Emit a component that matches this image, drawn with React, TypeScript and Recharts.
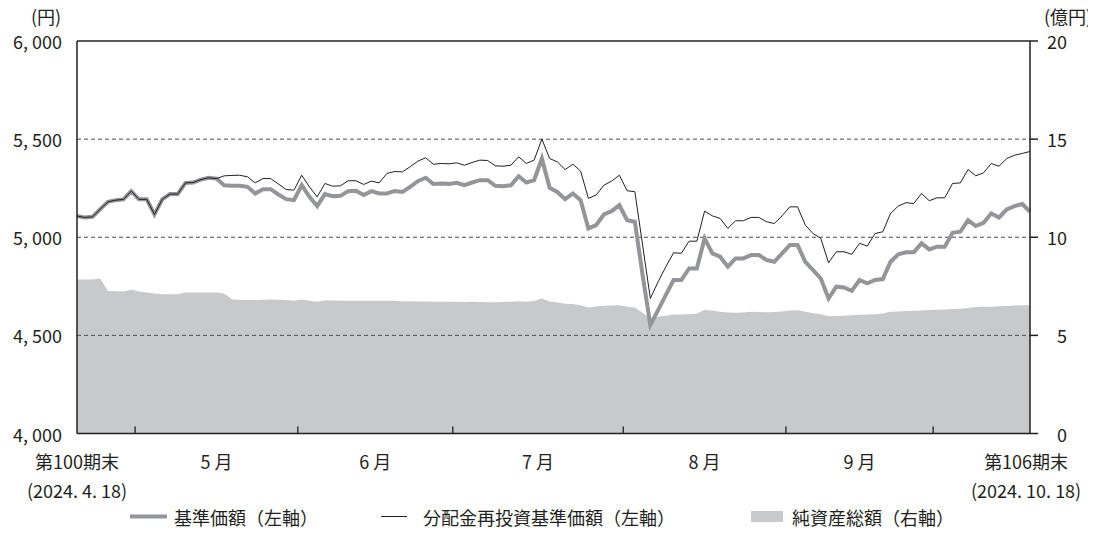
import React from 'react';
import { ComposedChart, Line, Area, XAxis, YAxis, ReferenceLine } from 'recharts';

const FONT = '"Noto Sans CJK JP", "Noto Sans", sans-serif';
const INK = '#231f20';
const NAV_COLOR = '#939598';
const AREA_COLOR = '#c8c9ca';

// 基準価額（左軸）
const navPrice = [
  5108, 5101, 5104, 5143, 5181, 5189, 5193, 5235, 5193, 5193,
  5116, 5193, 5220, 5220, 5277, 5279, 5294, 5303, 5299, 5265,
  5262, 5262, 5257, 5223, 5245, 5245, 5218, 5194, 5189, 5265,
  5206, 5159, 5220, 5209, 5211, 5235, 5237, 5215, 5235, 5223,
  5223, 5236, 5231, 5257, 5286, 5303, 5271, 5274, 5272, 5277,
  5265, 5279, 5291, 5291, 5262, 5260, 5265, 5311, 5279, 5291,
  5401, 5252, 5231, 5194, 5223, 5189, 5045, 5062, 5116, 5133,
  5164, 5087, 5079, 4807, 4553, 4629, 4706, 4782, 4782, 4841,
  4841, 4994, 4918, 4901, 4850, 4892, 4892, 4909, 4909, 4884,
  4875, 4918, 4960, 4960, 4875, 4833, 4790, 4688, 4748, 4744,
  4727, 4782, 4765, 4782, 4787, 4875, 4913, 4923, 4923, 4969,
  4938, 4952, 4952, 5023, 5028, 5087, 5057, 5074, 5121, 5101,
  5142, 5159, 5169, 5130,
];

// 分配金再投資基準価額（左軸）
const reinvestedPrice = [
  5108, 5101, 5104, 5143, 5181, 5189, 5193, 5235, 5193, 5193,
  5116, 5193, 5220, 5220, 5277, 5279, 5294, 5303, 5299, 5313,
  5315, 5316, 5308, 5277, 5299, 5299, 5271, 5243, 5240, 5316,
  5257, 5206, 5274, 5260, 5262, 5288, 5288, 5269, 5286, 5277,
  5325, 5335, 5333, 5359, 5388, 5405, 5372, 5376, 5374, 5379,
  5367, 5381, 5393, 5391, 5364, 5362, 5367, 5410, 5376, 5393,
  5500, 5401, 5384, 5345, 5372, 5337, 5198, 5215, 5265, 5286,
  5316, 5237, 5232, 4960, 4688, 4773, 4850, 4921, 4918, 4980,
  4980, 5133, 5109, 5096, 5045, 5084, 5084, 5101, 5101, 5079,
  5070, 5109, 5155, 5155, 5062, 5019, 4994, 4870, 4926, 4926,
  4913, 4969, 4955, 5019, 5028, 5121, 5159, 5176, 5172, 5223,
  5186, 5201, 5201, 5274, 5277, 5345, 5313, 5328, 5376, 5362,
  5401, 5418, 5427, 5437,
];

// 純資産総額（右軸, 億円）
const netAssets = [
  7.85, 7.85, 7.85, 7.9, 7.26, 7.25, 7.23, 7.33, 7.23, 7.18,
  7.13, 7.09, 7.1, 7.1, 7.18, 7.18, 7.18, 7.18, 7.18, 7.13,
  6.84, 6.8, 6.8, 6.8, 6.82, 6.83, 6.82, 6.8, 6.77, 6.83,
  6.76, 6.71, 6.79, 6.78, 6.77, 6.77, 6.77, 6.77, 6.77, 6.76,
  6.76, 6.76, 6.73, 6.74, 6.72, 6.73, 6.71, 6.71, 6.71, 6.7,
  6.7, 6.71, 6.7, 6.69, 6.69, 6.7, 6.71, 6.74, 6.71, 6.75,
  6.88, 6.72, 6.67, 6.61, 6.6, 6.54, 6.42, 6.47, 6.51, 6.52,
  6.54, 6.46, 6.42, 6.15, 5.88, 5.95, 6.0, 6.07, 6.07, 6.08,
  6.1, 6.3, 6.25, 6.2, 6.16, 6.15, 6.17, 6.2, 6.19, 6.18,
  6.19, 6.22, 6.27, 6.28, 6.2, 6.13, 6.08, 5.97, 5.99, 6.0,
  6.02, 6.05, 6.07, 6.08, 6.12, 6.2, 6.22, 6.24, 6.25, 6.27,
  6.29, 6.3, 6.32, 6.34, 6.36, 6.4, 6.44, 6.46, 6.46, 6.48,
  6.5, 6.52, 6.54, 6.54,
];

const leftTicks = [4000, 4500, 5000, 5500, 6000];
const gridValues = [4500, 5000, 5500];
const rightTicks = [0, 5, 10, 15, 20];
const monthBoundaries = [7.5, 28.5, 48.5, 70.5, 91.5, 110.5];
const xLabelPositions = [0, 18, 38.5, 59.5, 81, 101, 122.5];
const xLabelTexts = [
  ['第100期末', '(2024. 4. 18)'],
  ['5 月'],
  ['6 月'],
  ['7 月'],
  ['8 月'],
  ['9 月'],
  ['第106期末', '(2024. 10. 18)'],
];
const legendNames = ['基準価額（左軸）', '分配金再投資基準価額（左軸）', '純資産総額（右軸）'];
// inward tick length on the bottom axis, in left-axis units (円)
const boundaryTickLen = 36;

const data = navPrice.map((v, i) => ({
  i,
  nav: v,
  reinv: reinvestedPrice[i],
  assets: netAssets[i],
}));

const fmtLeft = (v: number) => `${Math.floor(v / 1000)}, ${String(v % 1000).padStart(3, '0')}`;

const txt = {
  fontSize: 18,
  fontFamily: FONT,
  fill: INK,
  dominantBaseline: 'central' as const,
};

const XTick = (props: any) => {
  const { x, y, payload } = props;
  const idx = xLabelPositions.indexOf(payload.value);
  if (idx < 0) return null;
  const lines = xLabelTexts[idx];
  return (
    <g>
      {lines.map((t, k) => (
        <text key={k} x={x} y={y + 27 + k * 29} textAnchor="middle" {...txt}>
          {t}
        </text>
      ))}
    </g>
  );
};

// legend drawn inside the svg, below the x-axis tick labels
const XAxisLegend = (props: any) => {
  const vb = props.viewBox || {};
  const base = (vb.y || 0) + 83;
  return (
    <g>
      <line x1={130} x2={167} y1={base} y2={base} stroke={NAV_COLOR} strokeWidth={4} />
      <text x={174} y={base} textAnchor="start" {...txt}>{legendNames[0]}</text>
      <line x1={381} x2={407} y1={base} y2={base} stroke={INK} strokeWidth={1} />
      <text x={423} y={base} textAnchor="start" {...txt}>{legendNames[1]}</text>
      <rect x={751} y={base - 5.5} width={32} height={11} fill={AREA_COLOR} />
      <text x={792} y={base} textAnchor="start" {...txt}>{legendNames[2]}</text>
    </g>
  );
};

const LeftTick = (props: any) => {
  const { x, y, payload } = props;
  return (
    <text x={x} y={y} textAnchor="end" {...txt}>
      {fmtLeft(payload.value)}
    </text>
  );
};

const RightTick = (props: any) => {
  const { x, y, payload } = props;
  return (
    <text x={x + 29} y={y} textAnchor="end" {...txt}>
      {payload.value}
    </text>
  );
};

const unitLabel = (text: string, dx: number) => (props: any) => {
  const vb = props.viewBox || {};
  return (
    <text x={(vb.x || 0) + dx} y={(vb.y || 0) - 25} textAnchor="middle" {...txt}>
      {text}
    </text>
  );
};

export default function App() {
  return (
    <div style={{ width: 1096, height: 530, margin: '-8px -8px 0 -8px', overflow: 'hidden' }}>
      <ComposedChart width={1096} height={530} data={data} margin={{ top: 41, right: 0, bottom: 0, left: 0 }}>
        <XAxis
          dataKey="i"
          type="number"
          domain={[0, 123]}
          ticks={xLabelPositions}
          interval={0}
          tickSize={0}
          tickMargin={0}
          tickLine={false}
          axisLine={{ stroke: INK, strokeWidth: 1.5 }}
          height={96.5}
          tick={<XTick />}
          allowDecimals
          label={{ value: 'legend', content: XAxisLegend }}
        />
        <YAxis
          yAxisId="left"
          orientation="left"
          domain={[4000, 6000]}
          ticks={leftTicks}
          interval={0}
          width={77}
          tickLine={false}
          tickSize={0}
          tickMargin={15}
          tick={<LeftTick />}
          axisLine={{ stroke: INK, strokeWidth: 1.5 }}
          label={{ value: '(円)', content: unitLabel('(円)', 46) }}
        />
        <YAxis
          yAxisId="right"
          orientation="right"
          domain={[0, 20]}
          ticks={rightTicks}
          interval={0}
          width={66}
          tickSize={8}
          tickMargin={0}
          tickLine={{ stroke: INK, strokeWidth: 1.5 }}
          tick={<RightTick />}
          axisLine={{ stroke: INK, strokeWidth: 1.5 }}
          label={{ value: '(億円)', content: unitLabel('(億円)', 38) }}
        />
        <Area
          yAxisId="right"
          dataKey="assets"
          type="linear"
          fill={AREA_COLOR}
          fillOpacity={1}
          stroke="none"
          isAnimationActive={false}
        />
        {gridValues.map((v) => (
          <ReferenceLine key={v} yAxisId="left" y={v} stroke="#4d4d4d" strokeWidth={1} strokeDasharray="4 3" />
        ))}
        <ReferenceLine yAxisId="left" y={6000} stroke={INK} strokeWidth={1.5} />
        {monthBoundaries.map((b) => (
          <ReferenceLine
            key={`b${b}`}
            yAxisId="left"
            segment={[
              { x: b, y: 4000 },
              { x: b, y: 4000 + boundaryTickLen },
            ]}
            stroke={INK}
            strokeWidth={1.3}
          />
        ))}
        <Line
          yAxisId="left"
          dataKey="nav"
          type="linear"
          stroke={NAV_COLOR}
          strokeWidth={4}
          dot={false}
          isAnimationActive={false}
        />
        <Line
          yAxisId="left"
          dataKey="reinv"
          type="linear"
          stroke={INK}
          strokeWidth={1}
          dot={false}
          isAnimationActive={false}
        />
      </ComposedChart>
    </div>
  );
}
